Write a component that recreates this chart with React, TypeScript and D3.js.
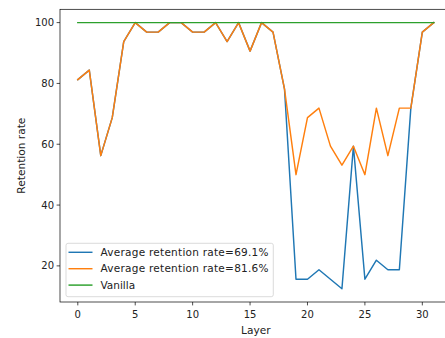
import React from 'react';
import * as d3 from 'd3';

// Layer indices 0..31
const layers: number[] = [
  0, 1, 2, 3, 4, 5, 6, 7, 8, 9, 10, 11, 12, 13, 14, 15,
  16, 17, 18, 19, 20, 21, 22, 23, 24, 25, 26, 27, 28, 29, 30, 31,
];

// Retention rate per layer (%)
const seriesBlue: number[] = [
  81.25, 84.375, 56.25, 68.75, 93.75, 100, 96.875, 96.875, 100, 100, 96.875, 96.875,
  100, 93.75, 100, 90.625, 100, 96.875, 78.125, 15.625, 15.625, 18.75, 15.625, 12.5,
  59.375, 15.625, 21.875, 18.75, 18.75, 71.875, 96.875, 100,
];
const seriesOrange: number[] = [
  81.25, 84.375, 56.25, 68.75, 93.75, 100, 96.875, 96.875, 100, 100, 96.875, 96.875,
  100, 93.75, 100, 90.625, 100, 96.875, 78.125, 50, 68.75, 71.875, 59.375, 53.125,
  59.375, 50, 71.875, 56.25, 71.875, 71.875, 96.875, 100,
];
const seriesVanilla: number[] = layers.map(() => 100);

const seriesNames = ['Average retention rate=69.1%', 'Average retention rate=81.6%', 'Vanilla'];
const seriesColors = ['#1f77b4', '#ff7f0e', '#2ca02c'];

const xTicks = [0, 5, 10, 15, 20, 25, 30];
const yTicks = [20, 40, 60, 80, 100];

const W = 445;
const H = 338;
const margin = { top: 9.3, right: -6.6, bottom: 36, left: 60 };
const font = '"DejaVu Sans", sans-serif';

export default function App() {
  const innerL = margin.left;
  const innerR = W - margin.right;
  const innerT = margin.top;
  const innerB = H - margin.bottom;

  const x = d3.scaleLinear().domain([-1.55, 32.55]).range([innerL, innerR]);
  const y = d3.scaleLinear().domain([8.125, 104.375]).range([innerB, innerT]);

  const line = d3
    .line<number>()
    .x((_, i) => x(layers[i]))
    .y((d) => y(d));

  const all = [seriesBlue, seriesOrange, seriesVanilla];

  const legX = 66;
  const legY = 243.3;

  return (
    <svg
      width={W}
      height={H}
      style={{ position: 'absolute', left: 0, top: 0, background: '#fff' }}
      fontFamily={font}
    >
      <rect x={0} y={0} width={W} height={H} fill="#fff" />

      {all.map((s, i) => (
        <path
          key={i}
          d={line(s) || ''}
          fill="none"
          stroke={seriesColors[i]}
          strokeWidth={1.45}
          strokeLinejoin="round"
          strokeLinecap="square"
        />
      ))}

      {/* spines */}
      <rect
        x={innerL}
        y={innerT}
        width={innerR - innerL}
        height={innerB - innerT}
        fill="none"
        stroke="#000"
        strokeWidth={0.7}
      />

      {/* x axis */}
      {xTicks.map((t) => (
        <g key={t} transform={`translate(${x(t)},${innerB})`}>
          <line y2={3.4} stroke="#000" strokeWidth={0.7} />
          <text y={16} textAnchor="middle" fontSize={10} fill="#222">
            {t}
          </text>
        </g>
      ))}
      <text x={(innerL + 451.6) / 2} y={333.5} textAnchor="middle" fontSize={10.6} fill="#222">
        Layer
      </text>

      {/* y axis */}
      {yTicks.map((t) => (
        <g key={t} transform={`translate(${innerL},${y(t)})`}>
          <line x2={-3.4} stroke="#000" strokeWidth={0.7} />
          <text x={-6} dy="0.35em" textAnchor="end" fontSize={10} fill="#222">
            {t}
          </text>
        </g>
      ))}
      <text
        transform={`translate(25,${(innerT + innerB) / 2}) rotate(-90)`}
        textAnchor="middle"
        fontSize={10.6}
        fill="#222"
      >
        Retention rate
      </text>

      {/* legend */}
      <rect
        x={legX}
        y={legY}
        width={207.3}
        height={53.4}
        rx={2}
        fill="#fff"
        fillOpacity={0.8}
        stroke="#cccccc"
        strokeWidth={0.7}
      />
      {seriesNames.map((n, i) => {
        const cy = legY + 9 + i * 16.4;
        const long = n.length > 10;
        return (
          <g key={n}>
            <line x1={legX + 2.5} x2={legX + 26.5} y1={cy} y2={cy} stroke={seriesColors[i]} strokeWidth={1.45} />
            <text
              x={legX + 34.5}
              y={cy}
              dy="0.35em"
              fontSize={10.5}
              fill="#222"
              textLength={long ? 168 : undefined}
              lengthAdjust="spacing"
            >
              {n}
            </text>
          </g>
        );
      })}
    </svg>
  );
}
